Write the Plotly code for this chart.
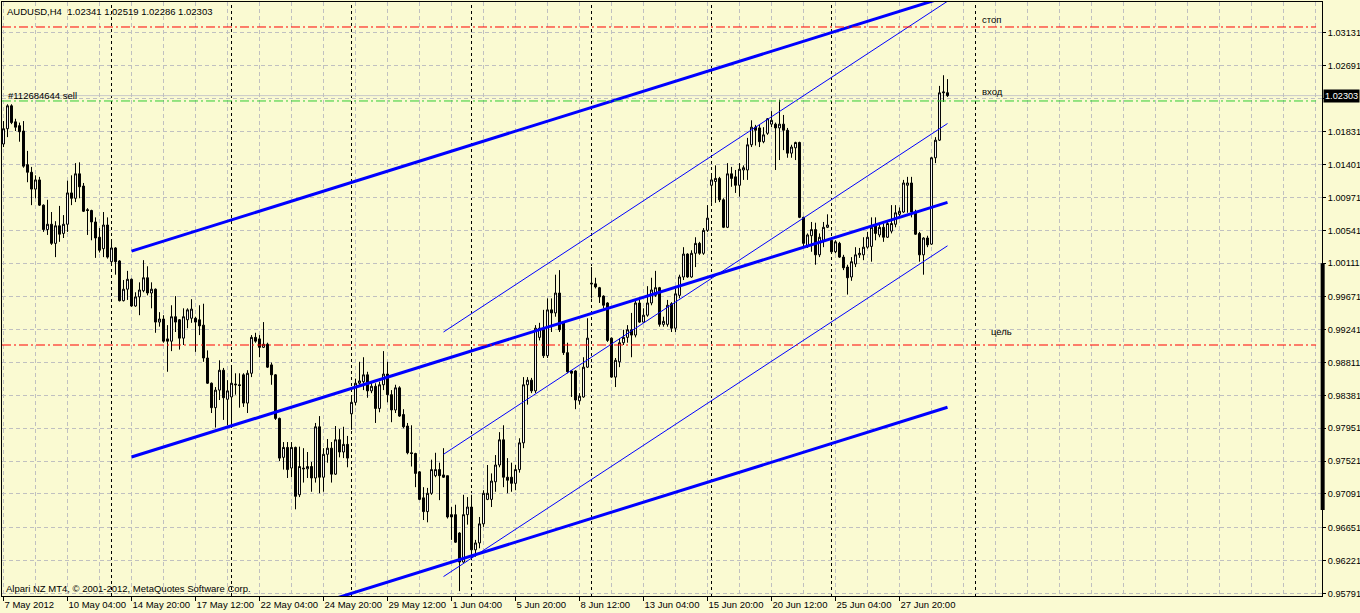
import plotly.graph_objects as go

# ---------------- data (AUDUSD, H4, bar index 0 = 7 May 2012 12:00) ----------------
bar_index = list(range(237))

open_prices = [
    1.0167, 1.0187, 1.0217, 1.0196, 1.0191, 1.0184, 1.0140, 1.0130, 1.0108, 1.0120,
    1.0087, 1.0055, 1.0062, 1.0037, 1.0060, 1.0050, 1.0062, 1.0103, 1.0096, 1.0128,
    1.0112, 1.0081, 1.0080, 1.0065, 1.0045, 1.0030, 1.0061, 1.0013, 1.0031, 1.0014,
    0.9962, 0.9977, 0.9990, 0.9955, 0.9967, 0.9975, 0.9992, 0.9972, 0.9977, 0.9934,
    0.9938, 0.9912, 0.9909, 0.9941, 0.9937, 0.9913, 0.9937, 0.9939, 0.9939, 0.9937,
    0.9930, 0.9887, 0.9854, 0.9822, 0.9845, 0.9871, 0.9833, 0.9836, 0.9853, 0.9852,
    0.9865, 0.9828, 0.9867, 0.9914, 0.9912, 0.9901, 0.9905, 0.9878, 0.9865, 0.9808,
    0.9757, 0.9770, 0.9743, 0.9770, 0.9708, 0.9743, 0.9742, 0.9745, 0.9730, 0.9797,
    0.9731, 0.9761, 0.9769, 0.9735, 0.9780, 0.9764, 0.9774, 0.9814, 0.9829, 0.9854,
    0.9856, 0.9865, 0.9844, 0.9850, 0.9821, 0.9852, 0.9866, 0.9839, 0.9819, 0.9848,
    0.9813, 0.9798, 0.9763, 0.9762, 0.9738, 0.9704, 0.9686, 0.9710, 0.9733, 0.9741,
    0.9734, 0.9733, 0.9682, 0.9682, 0.9658, 0.9620, 0.9682, 0.9692, 0.9636, 0.9645,
    0.9670, 0.9702, 0.9702, 0.9725, 0.9747, 0.9780, 0.9731, 0.9731, 0.9723, 0.9741,
    0.9776, 0.9852, 0.9858, 0.9844, 0.9914, 0.9926, 0.9890, 0.9950, 0.9946, 0.9972,
    0.9933, 0.9894, 0.9870, 0.9870, 0.9831, 0.9836, 0.9875, 0.9985, 0.9984, 0.9979,
    0.9968, 0.9959, 0.9913, 0.9862, 0.9882, 0.9907, 0.9914, 0.9924, 0.9917, 0.9959,
    0.9934, 0.9943, 0.9959, 0.9969, 0.9979, 0.9931, 0.9931, 0.9958, 0.9926, 0.9969,
    0.9993, 1.0023, 0.9993, 1.0024, 1.0037, 1.0024, 1.0054, 1.0113, 1.0118, 1.0122,
    1.0094, 1.0058, 1.0128, 1.0124, 1.0113, 1.0133, 1.0133, 1.0166, 1.0189, 1.0188,
    1.0170, 1.0181, 1.0193, 1.0193, 1.0188, 1.0193, 1.0185, 1.0155, 1.0162, 1.0169,
    1.0071, 1.0033, 1.0047, 1.0055, 1.0022, 1.0041, 1.0058, 1.0041, 1.0026, 1.0037,
    1.0019, 1.0006, 0.9993, 1.0010, 1.0022, 1.0022, 1.0032, 1.0033, 1.0060, 1.0048,
    1.0058, 1.0045, 1.0053, 1.0062, 1.0075, 1.0078, 1.0113, 1.0116, 1.0078, 1.0050,
    1.0022, 1.0044, 1.0036, 1.0149, 1.0172, 1.0234, 1.02341,
]

high_prices = [
    1.0197, 1.0219, 1.0219, 1.0200, 1.0195, 1.0197, 1.0158, 1.0137, 1.0126, 1.0124,
    1.0088, 1.0094, 1.0078, 1.0066, 1.0086, 1.0074, 1.0119, 1.0126, 1.0142, 1.0143,
    1.0116, 1.0083, 1.0081, 1.0071, 1.0057, 1.0078, 1.0071, 1.0039, 1.0032, 1.0015,
    0.9989, 1.0001, 0.9991, 0.9973, 0.9986, 1.0015, 1.0007, 0.9986, 0.9978, 0.9947,
    0.9943, 0.9930, 0.9956, 0.9968, 0.9938, 0.9952, 0.9952, 0.9964, 0.9941, 0.9956,
    0.9958, 0.9897, 0.9855, 0.9849, 0.9884, 0.9874, 0.9858, 0.9874, 0.9867, 0.9867,
    0.9867, 0.9871, 0.9917, 0.9920, 0.9917, 0.9934, 0.9907, 0.9881, 0.9866, 0.9809,
    0.9777, 0.9777, 0.9777, 0.9771, 0.9771, 0.9769, 0.9764, 0.9751, 0.9802, 0.9811,
    0.9769, 0.9781, 0.9777, 0.9798, 0.9794, 0.9797, 0.9785, 0.9835, 0.9860, 0.9882,
    0.9888, 0.9869, 0.9854, 0.9854, 0.9856, 0.9896, 0.9882, 0.9845, 0.9852, 0.9850,
    0.9820, 0.9802, 0.9799, 0.9763, 0.9739, 0.9718, 0.9717, 0.9754, 0.9763, 0.9750,
    0.9769, 0.9733, 0.9692, 0.9695, 0.9659, 0.9708, 0.9705, 0.9708, 0.9649, 0.9679,
    0.9714, 0.9747, 0.9736, 0.9760, 0.9790, 0.9799, 0.9756, 0.9750, 0.9747, 0.9782,
    0.9862, 0.9862, 0.9861, 0.9930, 0.9933, 0.9950, 0.9965, 0.9965, 0.9996, 1.0002,
    0.9934, 0.9907, 0.9871, 0.9871, 0.9841, 0.9888, 0.9939, 1.0006, 0.9992, 0.9980,
    0.9969, 0.9960, 0.9914, 0.9887, 0.9913, 0.9924, 0.9930, 0.9946, 0.9963, 0.9963,
    0.9952, 0.9981, 0.9992, 1.0001, 0.9980, 0.9941, 0.9963, 0.9960, 0.9978, 0.9996,
    1.0032, 1.0024, 1.0028, 1.0045, 1.0039, 1.0057, 1.0087, 1.0129, 1.0139, 1.0124,
    1.0096, 1.0142, 1.0137, 1.0133, 1.0142, 1.0139, 1.0175, 1.0198, 1.0192, 1.0192,
    1.0189, 1.0201, 1.0210, 1.0195, 1.0225, 1.0205, 1.0188, 1.0166, 1.0170, 1.0170,
    1.0072, 1.0050, 1.0065, 1.0064, 1.0050, 1.0065, 1.0075, 1.0044, 1.0041, 1.0039,
    1.0022, 1.0009, 1.0019, 1.0032, 1.0031, 1.0045, 1.0052, 1.0071, 1.0071, 1.0063,
    1.0063, 1.0067, 1.0087, 1.0087, 1.0084, 1.0120, 1.0124, 1.0124, 1.0081, 1.0052,
    1.0045, 1.0047, 1.0150, 1.0176, 1.0243, 1.0257, 1.02519,
]

low_prices = [
    1.0163, 1.0176, 1.0193, 1.0184, 1.0170, 1.0136, 1.0117, 1.0087, 1.0096, 1.0086,
    1.0052, 1.0048, 1.0035, 1.0019, 1.0039, 1.0044, 1.0052, 1.0087, 1.0091, 1.0096,
    1.0078, 1.0048, 1.0041, 1.0018, 1.0025, 1.0019, 1.0017, 1.0009, 0.9996, 0.9961,
    0.9961, 0.9963, 0.9954, 0.9954, 0.9943, 0.9973, 0.9969, 0.9952, 0.9920, 0.9928,
    0.9907, 0.9869, 0.9896, 0.9921, 0.9898, 0.9904, 0.9926, 0.9933, 0.9895, 0.9917,
    0.9882, 0.9853, 0.9815, 0.9796, 0.9832, 0.9806, 0.9799, 0.9799, 0.9839, 0.9822,
    0.9823, 0.9815, 0.9862, 0.9907, 0.9888, 0.9900, 0.9874, 0.9852, 0.9806, 0.9752,
    0.9741, 0.9730, 0.9731, 0.9689, 0.9705, 0.9724, 0.9730, 0.9712, 0.9724, 0.9710,
    0.9712, 0.9750, 0.9724, 0.9734, 0.9757, 0.9756, 0.9744, 0.9793, 0.9825, 0.9852,
    0.9845, 0.9835, 0.9841, 0.9802, 0.9816, 0.9845, 0.9829, 0.9803, 0.9815, 0.9810,
    0.9795, 0.9761, 0.9745, 0.9718, 0.9701, 0.9675, 0.9672, 0.9708, 0.9731, 0.9701,
    0.9730, 0.9677, 0.9649, 0.9645, 0.9582, 0.9619, 0.9669, 0.9627, 0.9627, 0.9638,
    0.9666, 0.9701, 0.9692, 0.9712, 0.9744, 0.9718, 0.9710, 0.9712, 0.9714, 0.9737,
    0.9769, 0.9826, 0.9841, 0.9841, 0.9910, 0.9887, 0.9887, 0.9921, 0.9941, 0.9921,
    0.9891, 0.9867, 0.9836, 0.9820, 0.9826, 0.9835, 0.9874, 0.9965, 0.9978, 0.9959,
    0.9952, 0.9908, 0.9861, 0.9849, 0.9875, 0.9904, 0.9907, 0.9888, 0.9914, 0.9933,
    0.9933, 0.9941, 0.9956, 0.9967, 0.9928, 0.9928, 0.9928, 0.9921, 0.9921, 0.9965,
    0.9989, 0.9992, 0.9992, 1.0006, 1.0022, 1.0022, 1.0052, 1.0090, 1.0090, 1.0091,
    1.0057, 1.0057, 1.0111, 1.0103, 1.0098, 1.0120, 1.0120, 1.0163, 1.0165, 1.0163,
    1.0168, 1.0179, 1.0189, 1.0133, 1.0146, 1.0159, 1.0149, 1.0149, 1.0146, 1.0070,
    1.0031, 1.0031, 1.0026, 1.0009, 1.0019, 1.0032, 1.0057, 1.0024, 1.0024, 1.0018,
    1.0002, 0.9970, 0.9988, 1.0006, 1.0018, 1.0015, 1.0030, 1.0013, 1.0041, 1.0045,
    1.0039, 1.0044, 1.0050, 1.0058, 1.0071, 1.0077, 1.0077, 1.0071, 1.0048, 1.0013,
    0.9996, 1.0032, 1.0035, 1.0142, 1.0171, 1.0222, 1.02286,
]

close_prices = [
    1.0187, 1.0217, 1.0195, 1.0189, 1.0183, 1.0138, 1.0130, 1.0108, 1.0120, 1.0087,
    1.0055, 1.0062, 1.0037, 1.0060, 1.0049, 1.0062, 1.0103, 1.0096, 1.0128, 1.0111,
    1.0079, 1.0080, 1.0065, 1.0044, 1.0028, 1.0061, 1.0019, 1.0031, 1.0013, 0.9962,
    0.9977, 0.9990, 0.9955, 0.9967, 0.9976, 0.9992, 0.9972, 0.9977, 0.9934, 0.9938,
    0.9909, 0.9909, 0.9941, 0.9934, 0.9913, 0.9941, 0.9950, 0.9951, 0.9934, 0.9929,
    0.9887, 0.9854, 0.9822, 0.9845, 0.9871, 0.9835, 0.9844, 0.9854, 0.9852, 0.9851,
    0.9828, 0.9867, 0.9914, 0.9909, 0.9901, 0.9905, 0.9875, 0.9865, 0.9808, 0.9756,
    0.9770, 0.9741, 0.9770, 0.9706, 0.9745, 0.9742, 0.9745, 0.9730, 0.9797, 0.9731,
    0.9761, 0.9769, 0.9735, 0.9780, 0.9764, 0.9774, 0.9756, 0.9829, 0.9854, 0.9857,
    0.9865, 0.9844, 0.9850, 0.9821, 0.9852, 0.9866, 0.9839, 0.9819, 0.9848, 0.9811,
    0.9797, 0.9763, 0.9762, 0.9736, 0.9702, 0.9686, 0.9710, 0.9741, 0.9741, 0.9733,
    0.9731, 0.9679, 0.9679, 0.9646, 0.9620, 0.9682, 0.9692, 0.9636, 0.9645, 0.9670,
    0.9710, 0.9710, 0.9726, 0.9747, 0.9780, 0.9731, 0.9727, 0.9723, 0.9741, 0.9776,
    0.9852, 0.9858, 0.9844, 0.9926, 0.9926, 0.9890, 0.9950, 0.9946, 0.9972, 0.9924,
    0.9894, 0.9869, 0.9867, 0.9832, 0.9837, 0.9875, 0.9913, 0.9984, 0.9980, 0.9967,
    0.9956, 0.9910, 0.9862, 0.9884, 0.9907, 0.9914, 0.9924, 0.9917, 0.9959, 0.9934,
    0.9943, 0.9959, 0.9976, 0.9979, 0.9931, 0.9935, 0.9956, 0.9926, 0.9971, 0.9993,
    1.0023, 0.9993, 1.0024, 1.0037, 1.0024, 1.0054, 1.0070, 1.0120, 1.0122, 1.0094,
    1.0058, 1.0128, 1.0122, 1.0113, 1.0134, 1.0136, 1.0166, 1.0189, 1.0185, 1.0170,
    1.0179, 1.0200, 1.0198, 1.0188, 1.0193, 1.0185, 1.0155, 1.0163, 1.0169, 1.0071,
    1.0037, 1.0048, 1.0055, 1.0022, 1.0045, 1.0058, 1.0061, 1.0026, 1.0039, 1.0019,
    1.0005, 0.9992, 1.0013, 1.0022, 1.0024, 1.0032, 1.0045, 1.0058, 1.0050, 1.0058,
    1.0045, 1.0063, 1.0063, 1.0077, 1.0079, 1.0116, 1.0116, 1.0078, 1.0049, 1.0022,
    1.0044, 1.0035, 1.0149, 1.0172, 1.0234, 1.0235, 1.02303,
]

# time axis labels (every 16 H4 bars)
tick_bars = [0, 16, 32, 48, 64, 80, 96, 112, 128, 144, 160, 176, 192, 208, 224]
tick_labels = ["7 May 2012", "10 May 04:00", "14 May 20:00", "17 May 12:00",
               "22 May 04:00", "24 May 20:00", "29 May 12:00", "1 Jun 04:00",
               "5 Jun 20:00", "8 Jun 12:00", "13 Jun 04:00", "15 Jun 20:00",
               "20 Jun 12:00", "25 Jun 04:00", "27 Jun 20:00"]
minor_grid_bars = [8, 24, 40, 56, 72, 88, 104, 120, 136, 152, 168, 184, 200, 216,
                   232, 240, 248, 256, 264, 272, 280, 288, 296, 304, 312, 320, 328]
week_separators = [27, 57, 87, 117, 147, 177, 207, 243]

price_ticks = [1.03131, 1.02691, 1.02261, 1.01831, 1.01401, 1.00971, 1.00541,
               1.00111, 0.99671, 0.99241, 0.98811, 0.98381, 0.97951, 0.97521,
               0.97091, 0.96651, 0.96221, 0.95791]
price_tick_labels = ["1.03131", "1.02691", "", "1.01831", "1.01401", "1.00971",
                     "1.00541", "1.00111", "0.99671", "0.99241", "0.98811",
                     "0.98381", "0.97951", "0.97521", "0.97091", "0.96651",
                     "0.96221", "0.95791"]

# drawn objects (bar index / price anchors)
thick_channel_bars = [32, 236]
thick_upper = [1.00269, 1.03602]
thick_middle = [0.97574, 1.00907]
thick_lower = [0.94892, 0.98225]
thin_channel_bars = [110, 236]
thin_upper = [0.99210, 1.03538]
thin_middle = [0.97610, 1.01938]
thin_lower = [0.96010, 1.00338]

bid_price = 1.02303
stop_level = 1.03201
entry_level = 1.02233
target_level = 0.99040
scale_bar = [0.96881, 1.00111]

BG = "#FAFAD2"
GRID = "#C0C0C0"
BLUE = "#0000FF"
FONT = "Liberation Sans"
FS = 9.5
FS_AXIS = 9.2

fig = go.Figure()

fig.add_trace(go.Candlestick(
    x=bar_index, open=open_prices, high=high_prices, low=low_prices, close=close_prices,
    increasing=dict(line=dict(color="black", width=1), fillcolor="white"),
    decreasing=dict(line=dict(color="black", width=1), fillcolor="black"),
    whiskerwidth=0, hoverinfo="skip", showlegend=False,
))

for bars, ys, w in [
    (thick_channel_bars, thick_upper, 3), (thick_channel_bars, thick_middle, 3),
    (thick_channel_bars, thick_lower, 3), (thin_channel_bars, thin_upper, 1),
    (thin_channel_bars, thin_middle, 1), (thin_channel_bars, thin_lower, 1),
]:
    fig.add_trace(go.Scatter(x=bars, y=ys, mode="lines",
                             line=dict(color=BLUE, width=w),
                             hoverinfo="skip", showlegend=False))

shapes = []
for b in week_separators:
    shapes.append(dict(type="line", xref="x", yref="paper", x0=b, x1=b, y0=0, y1=1,
                       line=dict(color="black", width=1, dash="3px,3px"), layer="below"))
shapes.append(dict(type="line", xref="paper", yref="y", x0=0, x1=1, y0=bid_price, y1=bid_price,
                   line=dict(color="#C8C8C8", width=1), layer="below"))
for lvl, col in [(stop_level, "#FF0000"), (target_level, "#FF0000"), (entry_level, "#32CD32")]:
    shapes.append(dict(type="line", xref="paper", yref="y", x0=0, x1=0.9955, y0=lvl, y1=lvl,
                       line=dict(color=col, width=1, dash="9px,3px,2px,3px"), layer="above"))
shapes.append(dict(type="line", xref="paper", yref="y", x0=1.0005, x1=1.0005,
                   y0=scale_bar[0], y1=scale_bar[1],
                   line=dict(color="black", width=4), layer="above"))

font = dict(family=FONT, size=FS, color="black")
axis_font = dict(family=FONT, size=FS_AXIS, color="black")
annotations = [
    dict(text="AUDUSD,H4\u00a0\u00a01.02341 1.02519 1.02286 1.02303", xref="paper", yref="paper",
         x=0.0025, y=0.9848, xanchor="left", yanchor="middle", showarrow=False, font=font),
    dict(text="#112684644 sell", xref="paper", yref="y", x=0.0033, y=bid_price,
         xanchor="left", yanchor="middle", showarrow=False, font=font),
    dict(text="стоп", xref="x", yref="y", x=244.2, y=1.03296,
         xanchor="left", yanchor="middle", showarrow=False, font=font),
    dict(text="вход", xref="x", yref="y", x=244.2, y=1.02363,
         xanchor="left", yanchor="middle", showarrow=False, font=font),
    dict(text="цель", xref="x", yref="y", x=246.3, y=0.99223,
         xanchor="left", yanchor="middle", showarrow=False, font=font),
    dict(text="Alpari NZ MT4, © 2001-2012, MetaQuotes Software Corp.", xref="paper", yref="paper",
         x=0.0018, y=0.013, xanchor="left", yanchor="middle", showarrow=False, font=font),
    dict(text="1.02303", xref="paper", yref="y", x=1.0006, y=bid_price,
         xanchor="left", yanchor="middle", showarrow=False, bgcolor="black",
         borderpad=1, font=dict(family=FONT, size=FS_AXIS, color="white")),
]

fig.update_layout(
    width=1360, height=613,
    margin=dict(l=2, r=38, t=2, b=17, autoexpand=False),
    paper_bgcolor=BG, plot_bgcolor=BG,
    showlegend=False, shapes=shapes, annotations=annotations,
    xaxis=dict(
        range=[-0.375, 329.625], tickmode="array", tickvals=tick_bars, ticktext=tick_labels,
        ticks="outside", ticklen=4, tickcolor="black", tickwidth=1, tickangle=0,
        ticklabelposition="outside right", tickfont=font,
        showgrid=True, gridcolor=GRID, griddash="4px,3px", gridwidth=1,
        minor=dict(tickmode="array", tickvals=minor_grid_bars, showgrid=True,
                   gridcolor=GRID, griddash="4px,3px", gridwidth=1, ticks=""),
        showline=True, mirror=True, linecolor="black", linewidth=1,
        zeroline=False, rangeslider=dict(visible=False), fixedrange=True,
    ),
    yaxis=dict(
        side="right", range=[0.957559, 1.03528], tickmode="array",
        tickvals=price_ticks, ticktext=price_tick_labels,
        ticks="outside", ticklen=3, tickcolor="black", tickwidth=1, tickfont=axis_font,
        showgrid=True, gridcolor=GRID, griddash="4px,3px", gridwidth=1,
        showline=True, mirror=True, linecolor="black", linewidth=1,
        zeroline=False, fixedrange=True,
    ),
)

fig.write_html(
    "out.html",
    config={"displayModeBar": False},
    post_script="document.body.style.margin='0';document.body.style.padding='0';"
                "document.body.style.overflow='hidden';document.body.style.background='" + BG + "';",
)
